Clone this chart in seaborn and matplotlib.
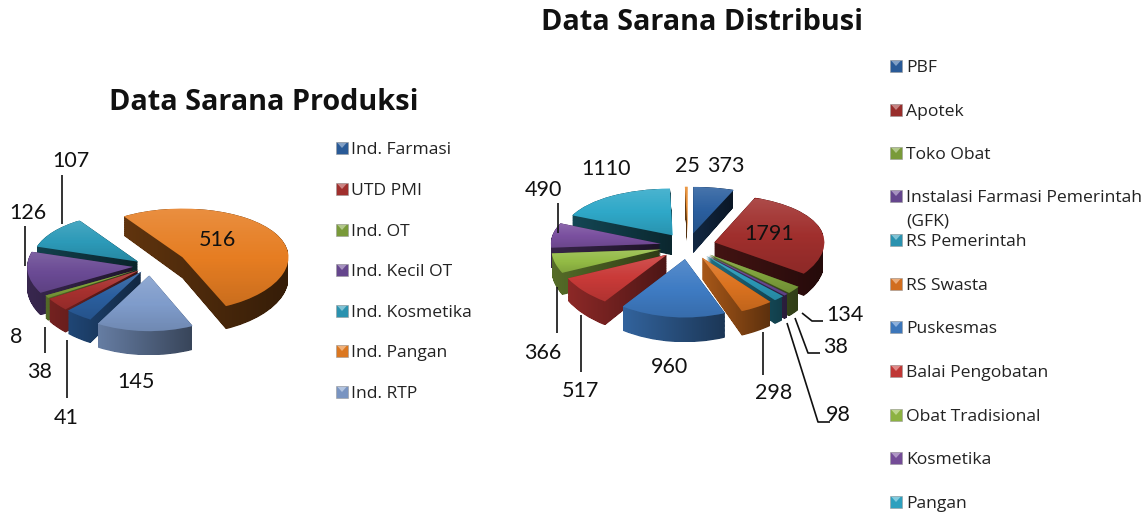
import numpy as np
import matplotlib
matplotlib.use('Agg')
import matplotlib.pyplot as plt
import seaborn as sns
from matplotlib.colors import to_rgb
from matplotlib.patches import Rectangle, Polygon
from matplotlib.path import Path
from matplotlib.transforms import Affine2D

W, H = 1141, 514

# data
prod_title = 'Data Sarana Produksi'
prod_names = ['Ind. Farmasi', 'UTD PMI', 'Ind. OT', 'Ind. Kecil OT', 'Ind. Kosmetika', 'Ind. Pangan', 'Ind. RTP']
prod_values = [41, 38, 8, 126, 107, 516, 145]

dist_title = 'Data Sarana Distribusi'
dist_names = ['PBF', 'Apotek', 'Toko Obat', 'Instalasi Farmasi Pemerintah', 'RS Pemerintah', 'RS Swasta',
              'Puskesmas', 'Balai Pengobatan', 'Obat Tradisional', 'Kosmetika', 'Pangan']
dist_values = [373, 1791, 134, 38, 98, 298, 960, 517, 366, 490, 1110, 25]

# styles
prod_colors = ['#2b5f9f', '#a8312f', '#7fa23c', '#6a4a94', '#2c9ab8', '#e67d22', '#7f9ccb']
dist_colors = ['#2b5f9f', '#a02f2d', '#7fa23c', '#6a4a94', '#2c9ab8', '#dc7320',
               '#3f7cc4', '#c93a38', '#93bb45', '#7a509f', '#2fa8c8', '#e88a2c']
prod_explode = [0.13, 0.13, 0.13, 0.16, 0.14, 0.35, 0.18]
dist_explode = [0.25] * 12

sns.set_theme(style='white')
plt.rcParams['font.family'] = ['Lato', 'DejaVu Sans']

fig = plt.figure(figsize=(W / 100, H / 100), dpi=100)
fig.patch.set_facecolor('white')


def draw_pie(values, colors, explode, startangle, cx, cy, rx, ry, depth, tilt_k):
    # y scale that squeezes the back of the pie and stretches the front
    def tilt(y):
        return (1 - np.exp(-tilt_k * np.asarray(y, dtype=float))) / tilt_k

    def untilt(v):
        return -np.log(np.clip(1 - tilt_k * np.asarray(v, dtype=float), 1e-6, None)) / tilt_k

    ax = fig.add_axes([0, 0, 1, 1])
    ax.patch.set_alpha(0)
    wedges, _ = ax.pie(values, colors=colors, explode=explode, startangle=startangle,
                       counterclock=False, wedgeprops={'zorder': 50, 'linewidth': 0})
    ax.set_aspect('auto')
    ax.set_yscale('function', functions=(tilt, untilt))
    dz = depth / ry
    order = sorted(wedges, key=lambda w: -w.center[1])
    for i, w in enumerate(order):
        col = np.array(to_rgb(w.get_facecolor()[:3]))
        mid = np.radians((w.theta1 + w.theta2) / 2)
        base = w.get_path().transformed(w.get_patch_transform())
        layers = [base.transformed(Affine2D().translate(0, -dz * k / 30)) for k in range(31)]
        side = Path.make_compound_path(*layers)
        box = side.get_extents()

        # side wall, lit from the left
        left = np.clip(0.5 - 0.3 * np.sin(mid), 0.42, 0.85)
        shade = np.linspace(left, left * 0.55, 64)[None, :, None]
        im = ax.imshow(shade * col[None, None, :], extent=[box.x0, box.x1, box.y0, box.y1],
                       aspect='auto', zorder=10 + i, interpolation='bilinear')
        im.set_clip_path(side, transform=ax.transData)

        # soft sheen on the top face
        top = base.get_extents()
        alpha = np.linspace(0.14, -0.12, 64)
        sheen = np.zeros((64, 1, 4))
        sheen[:, 0, :3] = (alpha[:, None] > 0)
        sheen[:, 0, 3] = np.abs(alpha)
        im = ax.imshow(sheen, extent=[top.x0, top.x1, top.y0, top.y1], aspect='auto', zorder=60)
        im.set_clip_path(base, transform=ax.transData)

    ax.set_xlim(-cx / rx, (W - cx) / rx)
    ax.set_ylim(untilt((cy - H) / ry), untilt(cy / ry))
    ax.axis('off')
    return ax


draw_pie(prod_values, prod_colors, prod_explode, -119, 150, 266, 106, 52, 21, 0.1)
draw_pie(dist_values, dist_colors, dist_explode, 90, 688, 246, 110, 52, 20, 0.15)

# overlay in pixel coordinates for text, leaders and legend keys
ov = fig.add_axes([0, 0, 1, 1])
ov.patch.set_alpha(0)
ov.set_xlim(0, W)
ov.set_ylim(H, 0)
ov.axis('off')

ov.text(264, 103, prod_title, family='Open Sans', fontsize=20.8, fontweight='bold', ha='center', va='center', color='#111111')
ov.text(702, 23, dist_title, family='Open Sans', fontsize=20.8, fontweight='bold', ha='center', va='center', color='#111111')

value_labels = [('107', 71, 160), ('126', 28, 212), ('8', 16, 336), ('38', 40, 371), ('41', 66, 417),
                ('145', 136, 381), ('516', 217, 239),
                ('1110', 606, 168), ('25', 687, 165), ('373', 726, 165), ('490', 543, 189),
                ('1791', 769, 233), ('134', 845, 314), ('38', 836, 346), ('98', 838, 414),
                ('298', 774, 392), ('960', 670, 366), ('517', 580, 390), ('366', 543, 352)]
for txt, x, y in value_labels:
    ov.text(x, y + 1, txt, fontsize=15.5, ha='center', va='center', color='#111111')

leaders = [[(62, 175), (62, 224)], [(25, 226), (25, 266)], [(45, 327), (45, 353)], [(67, 340), (67, 398)],
           [(558, 203), (558, 233)], [(557, 287), (557, 333)], [(581, 315), (581, 372)], [(763, 332), (763, 375)],
           [(802, 313), (812, 321), (823, 321)], [(795, 318), (808, 353), (820, 353)],
           [(787, 323), (818, 422), (830, 422)]]
for pts in leaders:
    xs, ys = zip(*pts)
    ov.plot(xs, ys, color='#111111', lw=1.2, solid_capstyle='butt')


def legend_key(x, y, color):
    col = np.array(to_rgb(color))
    ov.add_patch(Rectangle((x, y - 6), 12, 12, facecolor=col * 0.95, edgecolor='#9a9a9a', lw=0.4))
    ov.add_patch(Polygon([(x + 1.5, y - 5), (x + 10.5, y - 5), (x + 6, y)], facecolor=0.6 * col + 0.4, lw=0))


prod_keys_y = [148, 189, 230, 270, 311, 351, 392]
for name, color, y in zip(prod_names, prod_colors, prod_keys_y):
    legend_key(336, y, color)
    ov.text(351, y + 2, name, family='Open Sans', fontsize=12.6, va='center', color='#222222')

dist_keys_y = [66, 110, 153, 196, 240, 284, 327, 371, 415, 458, 502]
for name, color, y in zip(dist_names, dist_colors, dist_keys_y):
    legend_key(890, y, color)
    ov.text(906, y + 2, name, family='Open Sans', fontsize=12.6, va='center', color='#222222')
ov.text(906, 222, '(GFK)', family='Open Sans', fontsize=12.6, va='center', color='#222222')

fig.savefig('out.png', dpi=100)
